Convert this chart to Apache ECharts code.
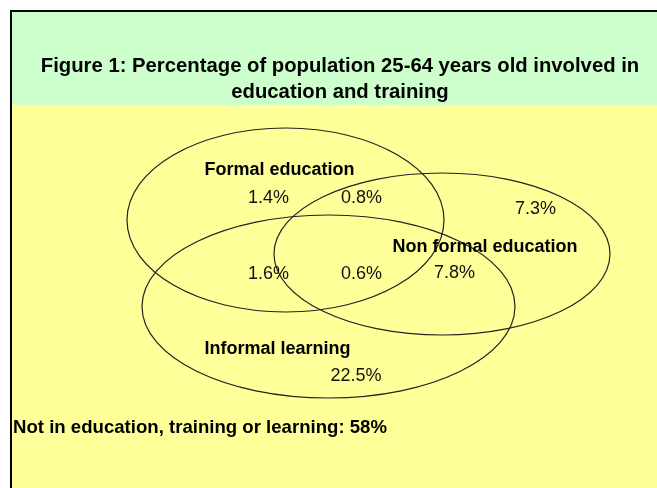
<!DOCTYPE html>
<html>
<head>
<meta charset="utf-8">
<script src="https://cdn.jsdelivr.net/npm/echarts@6/dist/echarts.min.js"></script>
<style>
html,body{margin:0;padding:0;background:#fff}
#main{width:657px;height:488px}
</style>
</head>
<body>
<div id="main"></div>
<script>
// --- data ---
var titleLines = ['Figure 1: Percentage of population 25-64 years old involved in', 'education and training'];
var setNames = ['Formal education', 'Non formal education', 'Informal learning'];
// regions: formal only, formal+nonformal, nonformal only, formal+informal, all three, nonformal+informal, informal only
var regionValues = [1.4, 0.8, 7.3, 1.6, 0.6, 7.8, 22.5];
var outsideLabel = 'Not in education, training or learning';
var outsideValue = 58;

// --- layout (units of the hidden axes, 1 unit = 1px) ---
var ellipses = [[285.5, 220, 158.5, 92], [442, 254, 168, 81], [328.5, 306.5, 186.5, 91.5]];
var setLabelPos = [[279.5, 170], [485, 247.5], [277.5, 349.5]];
var regionPos = [[268.5, 198], [361.5, 198], [535.5, 209.5], [268.5, 274.5], [361.5, 274.5], [454.5, 273], [356, 376.5]];
var outsidePos = [13, 428];

var FONT = '"Liberation Sans", Arial, sans-serif';
var chart = echarts.init(document.getElementById('main'));

var option = {
    animation: false,
    grid: {left: 0, right: 0, top: 0, bottom: 0},
    xAxis: {type: 'value', min: 0, max: 657, show: false},
    yAxis: {type: 'value', min: 0, max: 488, inverse: true, show: false},
    graphic: [
        {type: 'rect', z: -10, shape: {x: 11, y: 11, width: 646, height: 95}, style: {fill: '#ccffcc'}},
        {type: 'rect', z: -10, shape: {x: 11, y: 105, width: 646, height: 383}, style: {fill: '#ffff99'}},
        {type: 'line', z: -5, shape: {x1: 11, y1: 11, x2: 657, y2: 11}, style: {stroke: '#000', lineWidth: 2}},
        {type: 'line', z: -5, shape: {x1: 11, y1: 10, x2: 11, y2: 488}, style: {stroke: '#000', lineWidth: 2}},
        {type: 'text', left: 340 - 300, top: 53, z: 5, style: {
            text: titleLines.join('\n'), x: 300, textAlign: 'center', width: 600,
            font: 'bold 20.3px ' + FONT, lineHeight: 26, fill: '#000'
        }}
    ],
    series: [
        {
            type: 'custom',
            data: ellipses,
            clip: false,
            silent: true,
            renderItem: function (params, api) {
                var c = api.coord([api.value(0), api.value(1)]);
                var s = api.size([api.value(2), api.value(3)]);
                return {
                    type: 'ellipse',
                    shape: {cx: c[0], cy: c[1], rx: s[0], ry: s[1]},
                    style: {fill: 'none', stroke: '#222', lineWidth: 1.2}
                };
            }
        },
        {
            type: 'scatter',
            symbolSize: 0,
            silent: true,
            itemStyle: {opacity: 1},
            data: setNames.map(function (n, i) { return {name: n, value: setLabelPos[i]}; }),
            label: {
                show: true, position: 'inside', formatter: '{b}',
                fontFamily: FONT, fontWeight: 'bold', fontSize: 18, color: '#000', textBorderWidth: 0
            }
        },
        {
            type: 'scatter',
            symbolSize: 0,
            silent: true,
            itemStyle: {opacity: 1},
            data: regionValues.map(function (v, i) { return regionPos[i].concat(v); }),
            label: {
                show: true, position: 'inside',
                formatter: function (p) { return p.value[2] + '%'; },
                fontFamily: FONT, fontSize: 18, color: '#111', textBorderWidth: 0
            }
        },
        {
            type: 'scatter',
            symbolSize: 0,
            silent: true,
            itemStyle: {opacity: 1},
            data: [outsidePos.concat(outsideValue)],
            label: {
                show: true, position: 'right', distance: 0,
                formatter: function (p) { return outsideLabel + ': ' + p.value[2] + '%'; },
                fontFamily: FONT, fontWeight: 'bold', fontSize: 18.6, color: '#000', textBorderWidth: 0
            }
        }
    ]
};
chart.setOption(option);
</script>
</body>
</html>
